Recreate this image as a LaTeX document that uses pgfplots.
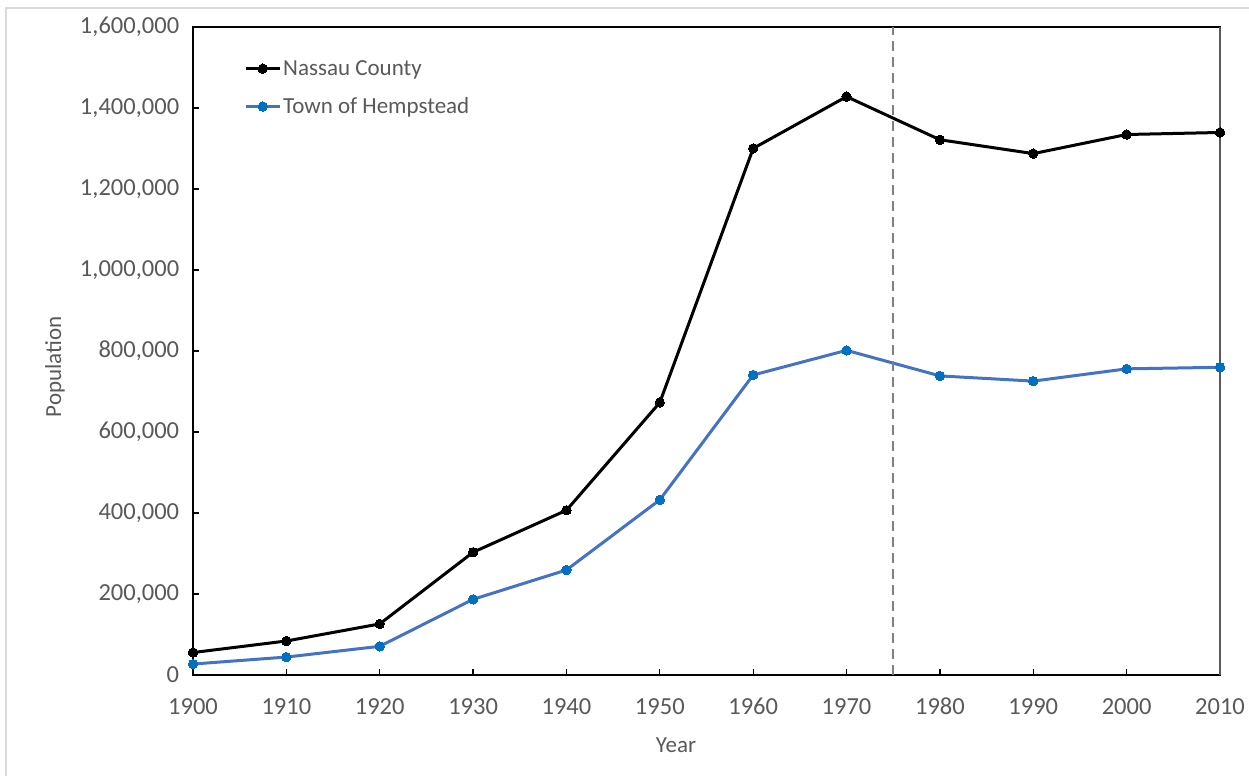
\documentclass[border=0pt]{standalone}
\usepackage{pgfplots}
\pgfplotsset{compat=1.18}
\usepackage{fontspec}
\setmainfont{Carlito}
\definecolor{txt}{HTML}{595959}
\definecolor{blueL}{HTML}{4472C4}
\definecolor{blueM}{HTML}{0070C0}
\begin{document}
\fontsize{23bp}{28bp}\selectfont
\begin{tikzpicture}
\path[use as bounding box] (0,0) rectangle (1249bp,776bp);
\draw[color=black!15, line width=1.5bp] (6bp,0) -- (6bp,768bp) -- (1249bp,768bp);
\begin{axis}[
  at={(193bp,101bp)}, anchor=south west,
  scale only axis, width=1027bp, height=648bp,
  xmin=1900, xmax=2010, ymin=0, ymax=1600000,
  xtick={1900,1910,...,2010},
  ytick={0,200000,...,1600000},
  scaled y ticks=false,
  tick pos=left, tick align=inside,
  major tick length=6bp,
  axis line style={black, line width=1.5bp},
  every tick/.style={black, line width=1.2bp},
  tick label style={font=\fontsize{24.5bp}{29bp}\selectfont, text=txt},
  /pgf/number format/assume math mode=true,
  yticklabel style={/pgf/number format/.cd, fixed, 1000 sep={,}},
  xticklabel style={/pgf/number format/.cd, 1000 sep={}, /tikz/.cd, text height=1.6ex, text depth=0.2ex},
  xticklabel shift=14bp,
  yticklabel shift=6bp,
  clip=false,
  legend style={at={(51bp,648bp-29bp)}, anchor=north west, draw=none, fill=none,
    inner sep=0pt, row sep=13bp, font=\fontsize{23bp}{28bp}\selectfont, text=txt,
    nodes={text height=1.6ex, text depth=0.3ex}},
  legend cell align=left,
  legend image code/.code={\draw[mark repeat=2,mark phase=2,#1] plot coordinates {(0bp,0bp)(17bp,0bp)(34bp,0bp)};},
]
\addplot[black, line width=3bp, mark=*, mark size=4.7bp, mark options={fill=black, draw=black, line width=0pt}]
 coordinates {(1900,55448)(1910,83930)(1920,126120)(1930,303053)(1940,406748)(1950,672765)(1960,1300171)(1970,1428080)(1980,1321582)(1990,1287348)(2000,1334544)(2010,1339532)};
\addlegendentry{Nassau County}
\addplot[blueL, line width=3bp, mark=*, mark size=4.7bp, mark options={fill=blueM, draw=blueM, line width=0pt}]
 coordinates {(1900,27066)(1910,44297)(1920,70790)(1930,186826)(1940,259318)(1950,432506)(1960,740738)(1970,801592)(1980,738517)(1990,725639)(2000,755924)(2010,759757)};
\addlegendentry{Town of Hempstead}
\addplot[color=black!50, line width=2.2bp, dash pattern=on 10bp off 6bp, forget plot] coordinates {(1975,0)(1975,1600000)};
\draw[color=txt, line width=1.5bp] (rel axis cs:1,0) -- (rel axis cs:1,1);
\end{axis}
\node[rotate=90, text=txt] at (55bp,409bp) {Population};
\node[text=txt] at (676bp,31bp) {Year};
\end{tikzpicture}
\end{document}
